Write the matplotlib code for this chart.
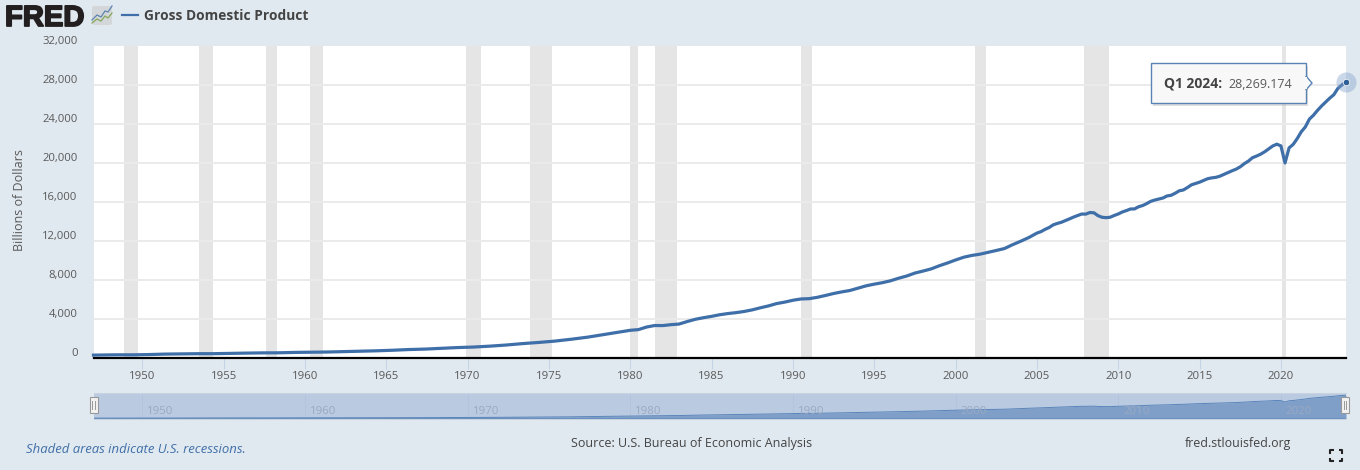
import matplotlib
matplotlib.use("Agg")
import matplotlib.pyplot as plt
import matplotlib.patheffects as pe
import matplotlib.transforms as mtrans
from matplotlib.patches import FancyBboxPatch, Rectangle, Polygon

plt.rcParams['font.family'] = ['Open Sans', 'DejaVu Sans']

# ---- data (billions of dollars) ----
annual_years = [1947.0, 1948.375, 1949.375, 1950.375, 1951.375, 1952.375, 1953.375, 1954.375, 1955.375,
                1956.375, 1957.375, 1958.375, 1959.375, 1960.375, 1961.375, 1962.375, 1963.375, 1964.375,
                1965.375, 1966.375, 1967.375, 1968.375, 1969.375, 1970.375, 1971.375, 1972.375, 1973.375,
                1974.375, 1975.375, 1976.375, 1977.375, 1978.375, 1979.375]
annual_gdp = [243, 275, 272, 300, 348, 367, 389, 391, 426, 450, 474, 482, 522, 543, 563, 605, 639, 686,
              743, 815, 862, 943, 1019, 1073, 1165, 1280, 1425, 1545, 1684, 1873, 2086, 2351, 2627]
half_years = [1980.0, 1980.5, 1981.0, 1981.5, 1982.0, 1982.5, 1983.0, 1983.5, 1984.0, 1984.5, 1985.0, 1985.5,
              1986.0, 1986.5, 1987.0, 1987.5, 1988.0, 1988.5, 1989.0, 1989.5, 1990.0, 1990.5, 1991.0, 1991.5,
              1992.0, 1992.5, 1993.0, 1993.5, 1994.0, 1994.5, 1995.0, 1995.5, 1996.0, 1996.5, 1997.0, 1997.5,
              1998.0, 1998.5, 1999.0, 1999.5, 2000.0, 2000.5, 2001.0, 2001.5, 2002.0, 2002.5, 2003.0, 2003.5,
              2004.0, 2004.5]
half_gdp = [2790, 2860, 3125, 3280, 3274, 3367, 3431, 3688, 3919, 4080, 4220, 4386,
            4507, 4600, 4723, 4885, 5100, 5293, 5532, 5683, 5872, 6004, 6035, 6174,
            6363, 6564, 6729, 6872, 7115, 7352, 7523, 7675, 7868, 8133, 8362, 8661,
            8866, 9089, 9411, 9694, 10002, 10285, 10470, 10598, 10783, 10977, 11175, 11567,
            11923, 12303]
first_quarter_year = 2005
quarterly_gdp = [12762, 12910, 13143, 13332, 13604, 13750, 13868, 14039, 14216, 14402, 14564, 14715,
                 14707, 14866, 14844, 14549, 14384, 14341, 14385, 14566, 14721, 14927, 15068, 15231,
                 15239, 15461, 15588, 15786, 16020, 16153, 16257, 16359, 16570, 16638, 16849, 17097,
                 17181, 17431, 17711, 17849, 17985, 18160, 18340, 18424, 18477, 18599, 18785, 18968,
                 19154, 19322, 19558, 19882, 20143, 20492, 20660, 20850, 21100, 21400, 21700, 21880,
                 21700, 19950, 21500, 21850, 22450, 23150, 23650, 24450, 24850, 25350, 25800, 26200,
                 26600, 26950, 27600, 27957, 28269]
recessions = [(1948.87, 1949.75), (1953.50, 1954.37), (1957.60, 1958.30), (1960.28, 1961.12),
              (1969.92, 1970.85), (1973.85, 1975.20), (1980.00, 1980.50), (1981.50, 1982.87),
              (1990.50, 1991.20), (2001.20, 2001.85), (2007.92, 2009.45), (2020.08, 2020.30)]
y_ticks = [0, 4000, 8000, 12000, 16000, 20000, 24000, 28000, 32000]
x_ticks = list(range(1950, 2025, 5))
nav_ticks = list(range(1950, 2030, 10))

quarter_years = [first_quarter_year + i / 4 for i in range(len(quarterly_gdp))]
dates = annual_years + half_years + quarter_years
gdp = annual_gdp + half_gdp + quarterly_gdp

W, H = 1360, 470
BG = '#e1e9f0'
LINE = '#3f6fa8'
TXT = '#595959'
fig = plt.figure(figsize=(W / 100, H / 100), dpi=100, facecolor=BG)


def box(l, t, r, b):
    return [l / W, 1 - b / H, (r - l) / W, (b - t) / H]


# ---- main plot ----
ax = fig.add_axes(box(93.5, 45.5, 1346, 357.5), facecolor='white')
ax.set_xlim(1947, 2024)
ax.set_ylim(0, 32000)
for a, b in recessions:
    ax.axvspan(a, b, color='#e5e5e5', lw=0, zorder=1)
for v in y_ticks[1:-1]:
    ax.axhline(v, color='#ebebeb', lw=1.4, zorder=1.5)
ax.plot(dates, gdp, color=LINE, lw=2.3, zorder=3, solid_joinstyle='round', clip_on=False)
ax.plot([dates[-1]], [gdp[-1]], 'o', ms=14.5, color='#7f9fc8', alpha=0.4, mew=0, zorder=4, clip_on=False)
ax.plot([dates[-1]], [gdp[-1]], 'o', ms=4.6, color='#2f5f97', mec='white', mew=0.5, zorder=5, clip_on=False)
for s in ['top', 'left', 'right']:
    ax.spines[s].set_visible(False)
ax.spines['bottom'].set_color('black')
ax.spines['bottom'].set_linewidth(1.6)
ax.set_yticks(y_ticks)
ax.set_yticklabels([f'{v:,}' for v in y_ticks], fontsize=8.1, color=TXT, va='bottom')
ax.tick_params(axis='y', length=0, pad=11.5)
shift_down = mtrans.ScaledTranslation(0, -1.2 / 100, fig.dpi_scale_trans)
for lab in ax.get_yticklabels():
    lab.set_transform(lab.get_transform() + shift_down)
ax.set_xticks(x_ticks)
ax.set_xticklabels([str(v) for v in x_ticks], fontsize=8.2, color=TXT)
ax.tick_params(axis='x', length=8, width=0.8, color='#c5d3e6', pad=1.5)

# ---- navigator ----
nav = fig.add_axes(box(93.5, 393, 1346, 419), facecolor='#bacae1')
nav.set_xlim(1947, 2024)
nav.set_ylim(-800, 31000)
nav.fill_between(dates, 0, gdp, color='#7f9fc8', lw=0, zorder=2)
nav.plot(dates, gdp, color='#5a85ba', lw=0.7, zorder=3)
nav.plot([1947, 2024], [0, 0], color='#6a90c0', lw=0.8, zorder=3)
for v in nav_ticks:
    nav.axvline(v, color='#b4c4dc', lw=0.6, zorder=1)
    nav.text(v + 0.3, 8300, str(v), color='#9aa9c2', fontsize=8.2, va='center', ha='left', zorder=4)
for s in nav.spines.values():
    s.set_visible(False)
nav.spines['top'].set_visible(True)
nav.spines['top'].set_color('#c9d3df')
nav.spines['bottom'].set_visible(True)
nav.spines['bottom'].set_color('#c9d3df')
nav.set_xticks([])
nav.set_yticks([])

# ---- overlay in pixel coordinates ----
ov = fig.add_axes([0, 0, 1, 1], facecolor='none')
ov.set_xlim(0, W)
ov.set_ylim(H, 0)
ov.axis('off')

# logo
ov.text(5, 26, 'FRED', family='Liberation Sans', weight='bold', fontsize=21, color='#231f20',
        va='baseline', ha='left', path_effects=[pe.withStroke(linewidth=1.3, foreground='#231f20')])
ov.add_patch(FancyBboxPatch((92, 6), 20, 19, boxstyle='round,pad=0,rounding_size=2', fc='#d3d7d9', ec='none'))
ov.plot([92, 97, 101, 105, 108, 112], [20, 15, 17, 11, 12, 6], color='#5b84b1', lw=0.9)
ov.plot([92, 97, 101, 105, 108, 112], [23, 19, 21, 16, 18, 13], color='#86a85a', lw=0.9)

# legend
ov.plot([122, 138], [15, 15], color=LINE, lw=1.6)
ov.text(144, 16, 'Gross Domestic Product', fontsize=9.9, weight='bold', color='#444444', va='center', ha='left')

# y axis title and footer
ov.text(19.5, 200.5, 'Billions of Dollars', rotation=90, fontsize=9, color=TXT, va='center', ha='center')
ov.text(26, 449.5, 'Shaded areas indicate U.S. recessions.', fontsize=9.45, style='italic', color='#3f6fa8',
        va='center', ha='left')
ov.text(692, 443, 'Source: U.S. Bureau of Economic Analysis', fontsize=9, color='#444444', va='center', ha='center')
ov.text(1291.5, 443.5, 'fred.stlouisfed.org', fontsize=8.9, color='#444444', va='center', ha='right')

# navigator handles
for hx in (93.5, 1345):
    ov.add_patch(Rectangle((hx - 4, 397), 8, 16, fc='#f2f2f2', ec='#999999', lw=0.8, zorder=6))
    ov.plot([hx - 1.2, hx - 1.2], [401, 409], color='#999999', lw=0.7, zorder=7)
    ov.plot([hx + 1.2, hx + 1.2], [401, 409], color='#999999', lw=0.7, zorder=7)

# tooltip
ov.add_patch(Rectangle((1153, 66), 155, 40, fc='#b9b9b9', ec='none', alpha=0.45, zorder=7))
ov.add_patch(Rectangle((1151, 63), 155, 40, fc='#f8f8f8', ec='#5a83b5', lw=1.0, zorder=8))
ov.add_patch(Polygon([[1306, 76], [1312, 83], [1306, 90]], closed=True, fc='#f8f8f8', ec='#5a83b5', lw=1.0, zorder=9))
ov.add_patch(Rectangle((1305, 76.6), 1.6, 12.8, fc='#f8f8f8', ec='none', zorder=10))
ov.text(1164, 84, 'Q1 2024:', fontsize=10, weight='bold', color='#444444', va='center', ha='left', zorder=11)
ov.text(1292, 84, '28,269.174', fontsize=9, color='#595959', va='center', ha='right', zorder=11)

# fullscreen icon
for (x, y, dx, dy) in [(1330, 450, 1, 1), (1342, 450, -1, 1), (1330, 461, 1, -1), (1342, 461, -1, -1)]:
    ov.plot([x + 3.5 * dx, x, x], [y, y, y + 3.5 * dy], color='#222222', lw=1.5, solid_capstyle='butt')

fig.savefig('out.png', dpi=100, facecolor=BG)
